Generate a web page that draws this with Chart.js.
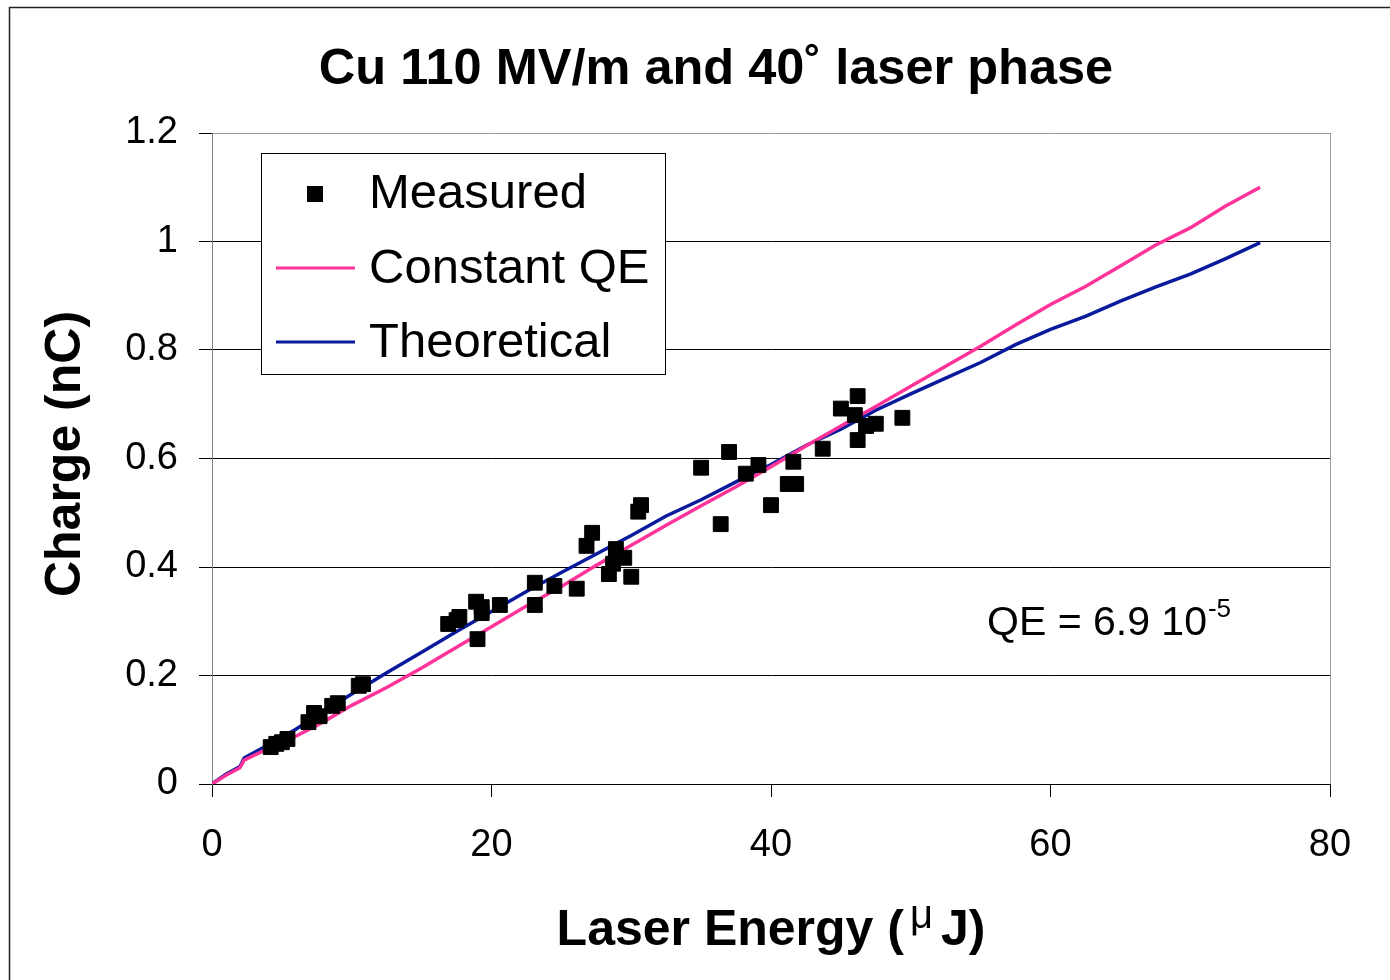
<!DOCTYPE html>
<html>
<head>
<meta charset="utf-8">
<title>Cu 110 MV/m and 40° laser phase</title>
<script src="https://cdn.jsdelivr.net/npm/chart.js@4.4.1/dist/chart.umd.min.js"></script>
<style>
    html, body { margin: 0; padding: 0; background: #fff; }
    canvas { display: block; }
</style>
</head>
<body>
<canvas id="qeChart" width="1390" height="980"></canvas>
<script>
// Measured points (laser energy in uJ, charge in nC)
const measuredEnergy = [4.2, 4.6, 5.0, 5.4, 6.9, 7.3, 7.7, 8.6, 9.0, 10.5, 10.8,
    16.9, 17.5, 17.7, 18.9, 19.3, 19.3, 19.0, 20.6, 23.1, 23.1, 24.5, 26.1,
    26.8, 27.2, 28.4, 28.7, 28.9, 29.5, 30.0, 30.5, 30.7,
    35.0, 36.4, 37.0, 38.2, 39.1, 40.0, 41.2, 41.8, 41.6, 43.7,
    45.0, 46.2, 46.0, 46.8, 47.5, 46.2, 49.4];
const measuredCharge = [0.068, 0.074, 0.077, 0.083, 0.114, 0.131, 0.125, 0.144, 0.149, 0.181, 0.184,
    0.295, 0.302, 0.308, 0.336, 0.326, 0.315, 0.267, 0.330, 0.371, 0.330, 0.365, 0.360,
    0.439, 0.463, 0.387, 0.406, 0.433, 0.417, 0.382, 0.502, 0.514,
    0.583, 0.479, 0.612, 0.572, 0.588, 0.514, 0.553, 0.553, 0.594, 0.618,
    0.692, 0.715, 0.680, 0.660, 0.664, 0.634, 0.675];

// Curves
const curveEnergy = [0, 1, 2, 2.3, 4, 6, 8, 10, 12.5, 15, 17.5, 20, 22.5, 25, 27.5, 30,
    32.5, 35, 37.5, 40, 42.5, 45, 47.5, 50, 52.5, 55, 57.5, 60, 62.5, 65, 67.5, 70, 72.5, 75];
const constantQE = [0, 0.016, 0.030, 0.044, 0.065, 0.088, 0.115, 0.145, 0.178, 0.214, 0.252, 0.290,
    0.328, 0.364, 0.403, 0.440, 0.477, 0.513, 0.548, 0.585, 0.623, 0.660, 0.696, 0.733,
    0.770, 0.807, 0.846, 0.884, 0.917, 0.955, 0.993, 1.025, 1.065, 1.100];
const theoretical = [0, 0.018, 0.032, 0.048, 0.072, 0.101, 0.134, 0.166, 0.205, 0.243, 0.281, 0.318,
    0.355, 0.390, 0.424, 0.458, 0.494, 0.524, 0.557, 0.589, 0.624, 0.654, 0.689, 0.719,
    0.748, 0.777, 0.810, 0.838, 0.862, 0.890, 0.916, 0.940, 0.968, 0.998];

// Tick labels
const xTickLabels = ['0', '20', '40', '60', '80'];
const yTickLabels = ['0', '0.2', '0.4', '0.6', '0.8', '1', '1.2'];

const seriesNames = ['Measured', 'Constant QE', 'Theoretical'];
const FONT = "'Liberation Sans', Arial, Helvetica, sans-serif";
const PINK = '#ff3399';
const NAVY = '#0a1a9c';

function toPoints(xs, ys) {
    return xs.map((x, i) => ({ x: x, y: ys[i] }));
}

// Frame, titles, annotation and legend box
const decorations = {
    id: 'decorations',
    beforeDraw(chart) {
        const ctx = chart.ctx;
        ctx.save();
        ctx.fillStyle = '#fff';
        ctx.fillRect(0, 0, chart.width, chart.height);
        ctx.strokeStyle = '#222';
        ctx.lineWidth = 1.5;
        ctx.beginPath();
        ctx.moveTo(9.5, chart.height);
        ctx.lineTo(9.5, 7.5);
        ctx.lineTo(chart.width, 7.5);
        ctx.stroke();
        ctx.restore();
    },
    afterDraw(chart) {
        const ctx = chart.ctx;
        const area = chart.chartArea;
        ctx.save();

        // right border of plot area
        ctx.strokeStyle = '#999';
        ctx.lineWidth = 1;
        ctx.beginPath();
        ctx.moveTo(area.right + 0.5, area.top);
        ctx.lineTo(area.right + 0.5, area.bottom);
        ctx.stroke();

        ctx.fillStyle = '#000';

        // title
        ctx.font = 'bold 50.5px ' + FONT;
        ctx.textAlign = 'center';
        ctx.textBaseline = 'alphabetic';
        ctx.fillText('Cu 110 MV/m and 40\u02DA laser phase', 716, 84);

        // y axis title
        ctx.save();
        ctx.translate(80, 454);
        ctx.rotate(-Math.PI / 2);
        ctx.font = 'bold 50px ' + FONT;
        ctx.fillText('Charge (nC)', 0, 0);
        ctx.restore();

        // x axis title with raised mu
        const partA = 'Laser Energy (';
        const partB = '\u03BC';
        const partC = 'J)';
        ctx.textAlign = 'left';
        ctx.font = 'bold 50px ' + FONT;
        const wA = ctx.measureText(partA).width;
        const wC = ctx.measureText(partC).width;
        const muGap = 37;
        let x = (area.left + area.right) / 2 - (wA + muGap + wC) / 2;
        ctx.fillText(partA, x, 945);
        x += wA;
        ctx.font = '40px ' + FONT;
        ctx.fillText(partB, x + 6, 928);
        x += muGap;
        ctx.font = 'bold 50px ' + FONT;
        ctx.fillText(partC, x, 945);

        // QE annotation
        ctx.font = '41px ' + FONT;
        ctx.fillText('QE = 6.9 10', 987, 635);
        const wQ = ctx.measureText('QE = 6.9 10').width;
        ctx.font = '26px ' + FONT;
        ctx.fillText('-5', 987 + wQ + 1, 617);

        // legend
        const box = { left: 261.5, top: 153.5, right: 665.5, bottom: 374.5 };
        ctx.fillStyle = '#fff';
        ctx.fillRect(box.left, box.top, box.right - box.left, box.bottom - box.top);
        ctx.strokeStyle = '#000';
        ctx.lineWidth = 1;
        ctx.strokeRect(box.left, box.top, box.right - box.left, box.bottom - box.top);

        const sets = chart.data.datasets;
        const rows = [208, 283, 357];
        ctx.font = '49px ' + FONT;
        ctx.textAlign = 'left';
        sets.forEach((ds, i) => {
            const base = rows[i];
            if (i === 0) {
                ctx.fillStyle = ds.backgroundColor;
                ctx.fillRect(307, 186, 16, 16);
            } else {
                ctx.strokeStyle = ds.borderColor;
                ctx.lineWidth = 3;
                ctx.beginPath();
                ctx.moveTo(276, base - 15);
                ctx.lineTo(355, base - 15);
                ctx.stroke();
            }
            ctx.fillStyle = '#000';
            ctx.fillText(ds.label, 369, base);
        });

        ctx.restore();
    }
};

const ctx = document.getElementById('qeChart').getContext('2d');
const qeChart = new Chart(ctx, {
    type: 'scatter',
    data: {
        datasets: [{
            label: seriesNames[0],
            data: toPoints(measuredEnergy, measuredCharge),
            pointStyle: 'rect',
            pointRadius: 10.5,
            pointHoverRadius: 10.5,
            backgroundColor: '#000',
            borderColor: '#000',
            borderWidth: 1,
            showLine: false
        }, {
            label: seriesNames[1],
            data: toPoints(curveEnergy, constantQE),
            showLine: true,
            borderColor: PINK,
            backgroundColor: PINK,
            borderWidth: 3.5,
            pointRadius: 0,
            tension: 0
        }, {
            label: seriesNames[2],
            data: toPoints(curveEnergy, theoretical),
            showLine: true,
            borderColor: NAVY,
            backgroundColor: NAVY,
            borderWidth: 3.5,
            pointRadius: 0,
            tension: 0
        }]
    },
    options: {
        responsive: false,
        animation: false,
        devicePixelRatio: 1,
        layout: { padding: { top: 133, right: 60, left: 0, bottom: 0 } },
        plugins: {
            legend: { display: false },
            title: { display: false },
            tooltip: { enabled: false }
        },
        scales: {
            x: {
                type: 'linear',
                min: 0,
                max: 80,
                afterFit: scale => { scale.height = 196; },
                afterBuildTicks: scale => {
                    scale.ticks = xTickLabels.map(t => ({ value: Number(t) }));
                },
                ticks: {
                    font: { family: FONT, size: 38 },
                    color: '#000',
                    padding: 26,
                    maxRotation: 0,
                    callback: (value, index) => xTickLabels[index]
                },
                grid: {
                    drawOnChartArea: false,
                    drawTicks: true,
                    tickLength: 13,
                    tickColor: '#000',
                    color: '#000'
                },
                border: { color: '#000', width: 1 }
            },
            y: {
                type: 'linear',
                min: 0,
                max: 1.2,
                afterFit: scale => { scale.width = 212; },
                afterBuildTicks: scale => {
                    scale.ticks = yTickLabels.map(t => ({ value: Number(t) }));
                },
                ticks: {
                    font: { family: FONT, size: 38 },
                    color: '#000',
                    padding: 21,
                    callback: (value, index) => yTickLabels[index]
                },
                grid: {
                    drawTicks: true,
                    tickLength: 13,
                    tickColor: '#000',
                    color: c => (c.index === yTickLabels.length - 1 ? '#999' : '#000'),
                    lineWidth: 1
                },
                border: { color: '#808080', width: 1 }
            }
        }
    },
    plugins: [decorations]
});
</script>
</body>
</html>
